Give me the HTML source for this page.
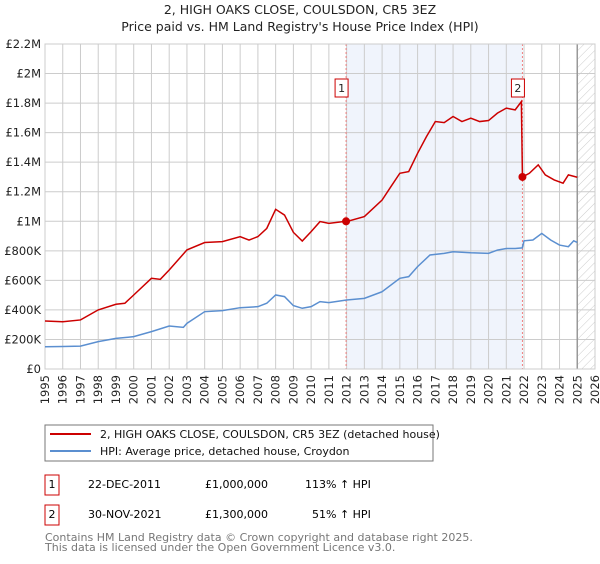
<!DOCTYPE html>
<html><head><meta charset="utf-8"><style>
body{margin:0;background:#fff;font-family:"DejaVu Sans","Liberation Sans",sans-serif;}
svg text{font-family:"DejaVu Sans","Liberation Sans",sans-serif;}
</style></head><body>
<svg id="c" width="600" height="560" xmlns="http://www.w3.org/2000/svg">
<defs><pattern id="hatch" width="6" height="6" patternUnits="userSpaceOnUse" patternTransform="rotate(45)"><line x1="0" y1="0" x2="0" y2="6" stroke="#ccc" stroke-width="1"/></pattern></defs>
<text x="300" y="14" text-anchor="middle" font-size="12.5" fill="#222">2, HIGH OAKS CLOSE, COULSDON, CR5 3EZ</text>
<text x="300" y="31" text-anchor="middle" font-size="12.5" fill="#222">Price paid vs. HM Land Registry's House Price Index (HPI)</text>
<g id="plot"></g>
<rect x="45" y="425" width="388" height="36" fill="#fff" stroke="#777"/>
<line x1="50" y1="434" x2="91" y2="434" stroke="#cc0000" stroke-width="2"/>
<text x="100" y="438" font-size="11" fill="#111">2, HIGH OAKS CLOSE, COULSDON, CR5 3EZ (detached house)</text>
<line x1="50" y1="451" x2="91" y2="451" stroke="#5b8fd0" stroke-width="2"/>
<text x="100" y="455" font-size="11" fill="#111">HPI: Average price, detached house, Croydon</text>
<g>
<rect x="45" y="475" width="14" height="20" fill="#fff" stroke="#cc0000"/>
<text x="52" y="488" text-anchor="middle" font-size="11">1</text>
<text x="88" y="488" font-size="11">22-DEC-2011</text>
<text x="205" y="488" font-size="11">£1,000,000</text>
<text x="305" y="488" font-size="11">113% ↑ HPI</text></g>
<g>
<rect x="45" y="505" width="14" height="20" fill="#fff" stroke="#cc0000"/>
<text x="52" y="518" text-anchor="middle" font-size="11">2</text>
<text x="88" y="518" font-size="11">30-NOV-2021</text>
<text x="205" y="518" font-size="11">£1,300,000</text>
<text x="312" y="518" font-size="11">51% ↑ HPI</text></g>
<text x="45" y="541" font-size="11" fill="#777">Contains HM Land Registry data © Crown copyright and database right 2025.</text>
<text x="45" y="551" font-size="11" fill="#777">This data is licensed under the Open Government Licence v3.0.</text>
</svg>
<script>
const hpiYears=[1995,1996,1997,1998,1999,2000,2001,2002,2002.8,2003,2004,2005,2006,2007,2007.5,2008,2008.5,2009,2009.5,2010,2010.5,2011,2012,2013,2014,2015,2015.5,2016,2016.7,2017.5,2018,2019,2020,2020.5,2021,2021.5,2021.9,2022,2022.5,2023,2023.5,2024,2024.5,2024.8,2025];
const hpiValues=[151,152,155,185,207,219,253,291,282,309,388,395,415,422,445,501,490,429,411,422,456,449,467,478,523,614,625,693,772,783,794,787,783,805,816,816,820,868,873,918,873,839,828,868,857];
const propYears=[1995,1996,1997,1998,1999,1999.5,2000,2001,2001.5,2002,2003,2004,2005,2006,2006.5,2007,2007.5,2008,2008.5,2009,2009.5,2010,2010.5,2011,2011.97,2012,2013,2013.5,2014,2014.5,2015,2015.5,2016,2016.5,2017,2017.5,2018,2018.5,2019,2019.5,2020,2020.5,2021,2021.5,2021.85,2021.91,2022.3,2022.8,2023.2,2023.7,2024.2,2024.5,2025];
const propValues=[325,320,332,400,438,445,501,614,607,670,806,856,862,896,873,896,952,1081,1042,925,866,930,998,986,1000,998,1032,1088,1144,1235,1325,1336,1460,1573,1675,1668,1709,1675,1698,1675,1682,1732,1766,1754,1810,1300,1325,1382,1314,1280,1258,1314,1298];
const saleYears=[2011.97,2021.91];
const saleValues=[1000,1300];
const saleLabels=["1","2"];
const yTicks=[0,200,400,600,800,1000,1200,1400,1600,1800,2000,2200];
const yTickLabels=["£0","£200K","£400K","£600K","£800K","£1M","£1.2M","£1.4M","£1.6M","£1.8M","£2M","£2.2M"];
const xTicks=[1995,1996,1997,1998,1999,2000,2001,2002,2003,2004,2005,2006,2007,2008,2009,2010,2011,2012,2013,2014,2015,2016,2017,2018,2019,2020,2021,2022,2023,2024,2025,2026];
const X0=45,X1=595,Y0=369,Y1=44;
const xs=y=>X0+(y-1995)/(2026-1995)*(X1-X0);
const ys=v=>Y0-v/2200*(Y0-Y1);
const NS="http://www.w3.org/2000/svg";
const g=document.getElementById('plot');
function mk(t,a){const e=document.createElementNS(NS,t);for(const k in a)e.setAttribute(k,a[k]);g.appendChild(e);return e;}
let r=mk('rect',{x:X0,y:Y1,width:X1-X0,height:Y0-Y1,fill:'#fff'});


let sh=mk('rect',{x:xs(saleYears[0]),y:Y1,width:xs(saleYears[1])-xs(saleYears[0]),height:Y0-Y1,fill:'#f0f4fc'});


let hx=xs(2025.0);
let ht=mk('rect',{x:hx,y:Y1,width:X1-hx,height:Y0-Y1,fill:'url(#hatch)'});


yTicks.forEach((v,i)=>{
 let l=mk('line',{x1:X0,x2:X1,y1:ys(v),y2:ys(v),stroke:'#ccc'});
 
 
 let t=mk('text',{x:X0-4,y:ys(v)+4,'text-anchor':'end','font-size':'11.5',fill:'#222'});t.textContent=yTickLabels[i];
 
 
});
xTicks.forEach(v=>{
 let l=mk('line',{x1:xs(v),x2:xs(v),y1:Y1,y2:Y0,stroke:'#ccc'});
 
 
 let tx=xs(v)+4,ty=Y0+6;
 let t=mk('text',{x:tx,y:ty,'text-anchor':'end','font-size':'11.5',fill:'#222',transform:'rotate(-90 '+tx+' '+ty+')'});t.textContent=v;
 
 
});
let vl=mk('line',{x1:hx,x2:hx,y1:Y1,y2:Y0,stroke:'#999','stroke-width':1.5});


saleYears.forEach(y=>{
 let l=mk('line',{x1:xs(y),x2:xs(y),y1:Y1,y2:Y0,stroke:'#f08080','stroke-dasharray':'2,2'});
 
 
});
let fr=mk('rect',{x:X0,y:Y1,width:X1-X0,height:Y0-Y1,fill:'none',stroke:'#ccc'});


let hp=mk('polyline',{points:hpiYears.map((y,i)=>xs(y)+','+ys(hpiValues[i])).join(' '),fill:'none',stroke:'#5b8fd0','stroke-width':1.5});


let pp=mk('polyline',{points:propYears.map((y,i)=>xs(y)+','+ys(propValues[i])).join(' '),fill:'none',stroke:'#cc0000','stroke-width':1.5});


saleYears.forEach((y,i)=>{
 let c=mk('circle',{cx:xs(y),cy:ys(saleValues[i]),r:4,fill:'#cc0000'});
 
 
 let b=mk('rect',{x:xs(y)-11,y:79,width:13,height:18,fill:'#fff',stroke:'#cc0000'});
 
 
 let t=mk('text',{x:xs(y)-4.5,y:92,'text-anchor':'middle','font-size':'11',fill:'#222'});t.textContent=saleLabels[i];
 
 
});
</script>
</body></html>
